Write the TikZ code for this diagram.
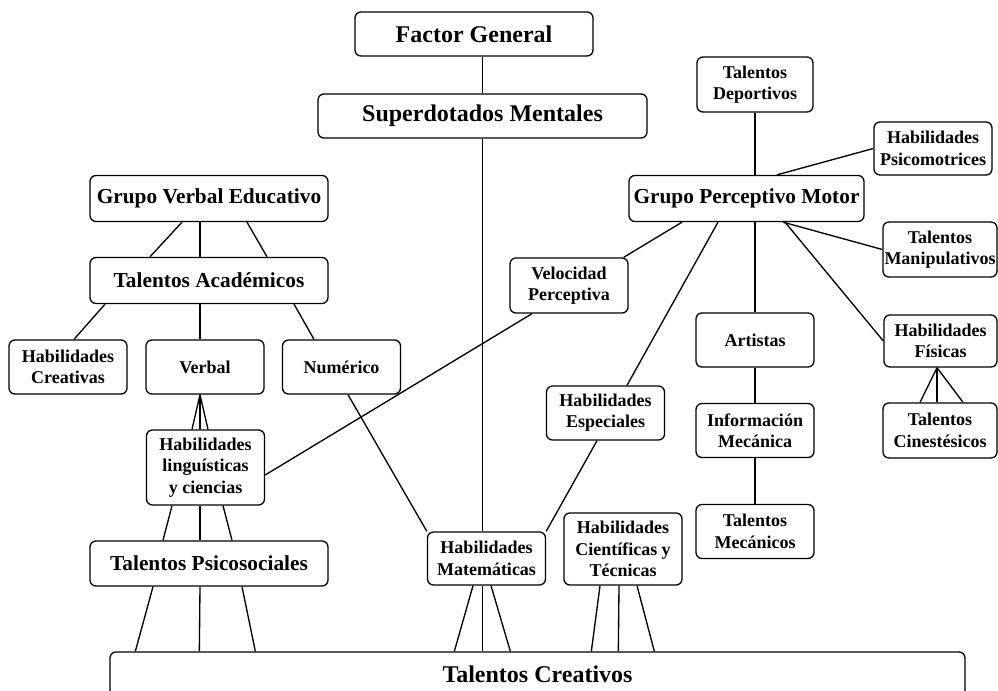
\documentclass[tikz,border=0pt]{standalone}
\usepackage{fontspec}
\setmainfont{Liberation Serif}
\usepackage{tikz}
\usetikzlibrary{calc}

\begin{document}
\begin{tikzpicture}[x=0.75pt, y=-0.75pt,
    box/.style={draw, line width=1pt, rounded corners=4.5pt, fill=white, align=center,
        inner sep=1pt, font=\bfseries\fontsize{13.5}{16}\selectfont,
        minimum width=88.5pt, minimum height=40.5pt},
    wide/.style={box, font=\bfseries\fontsize{16}{19}\selectfont,
        minimum width=178.5pt, minimum height=34.5pt},
    head/.style={wide, font=\bfseries\fontsize{18}{21}\selectfont, minimum height=33pt},
    link/.style={line width=1pt}]
    \useasboundingbox (0,0) rectangle (998,691);

    % big boxes
    \node[head] (fg) at (474,34) {Factor General};
    \node[head, minimum width=246.75pt] (sm) at (482.5,116) {Superdotados Mentales};
    \node[wide] (gve) at (209,198.5) {Grupo Verbal Educativo};
    \node[wide] (ta) at (209,280.5) {Talentos Académicos};
    \node[wide, minimum width=176.25pt] (gpm) at (746.5,198.5) {Grupo Perceptivo Motor};
    \node[wide, minimum height=33.75pt] (ts) at (209,563.5) {Talentos Psicosociales};
    \node[head, minimum width=641.25pt] (tc) at (537.5,674) {Talentos Creativos};

    % small boxes
    \node[box, minimum width=87pt, minimum height=41.25pt] (td) at (755,84.5) {Talentos\\Deportivos};
    \node[box, minimum height=39.75pt] (hp) at (933,148.5) {Habilidades\\Psicomotrices};
    \node[box, minimum width=85.5pt, minimum height=41.25pt] (tmp) at (940,249.5) {Talentos\\Manipulativos};
    \node[box, minimum height=41.25pt] (vp) at (569,285.5) {Velocidad\\Perceptiva};
    \node[box] (hcr) at (68,367) {Habilidades\\Creativas};
    \node[box] (vb) at (205,367) {Verbal};
    \node[box] (nu) at (341.5,367) {Numérico};
    \node[box] (art) at (755,340) {Artistas};
    \node[box, minimum width=84.75pt, minimum height=39pt] (hf) at (940.5,341) {Habilidades\\Físicas};
    \node[box] (es) at (605.5,413) {Habilidades\\Especiales};
    \node[box] (im) at (755,430.5) {Información\\Mecánica};
    \node[box, minimum width=85.5pt, minimum height=41.25pt] (tcin) at (940,430.5) {Talentos\\Cinestésicos};
    \node[box, minimum height=56.25pt] (hl) at (205.5,467.5) {Habilidades\\linguísticas\\y ciencias};
    \node[box] (tme) at (755,531.5) {Talentos\\Mecánicos};
    \node[box, minimum height=54pt] (hct) at (623,549) {Habilidades\\Científicas y\\Técnicas};
    \node[box, minimum height=39.75pt] (hm) at (486.5,558.5) {Habilidades\\Matemáticas};

    % centre column
    \draw[link] (fg.south -| sm.north) -- (sm.north);
    \draw[link] (sm.south) -- (sm.south |- hm.north);
    \draw[link] (sm.south |- hm.south) -- (sm.south |- tc.north);
    \draw[link] ($(hm.south)+(-13.5,0)$) -- ($(tc.north west)+(345,0)$);
    \draw[link] ($(hm.south)+(4.5,0)$) -- ($(tc.north west)+(401,0)$);
    \draw[link] ($(nu.south)+(6.5,0)$) -- (hm.north west);
    \draw[link] ($(es.south)+(-8.5,0)$) -- (hm.north east);
    \draw[link] ($(hct.south)+(-23,0)$) -- ($(tc.north west)+(482,0)$);
    \draw[link] ($(hct.south)+(-4,0)$) -- ($(tc.north west)+(509,0)$);
    \draw[link] ($(hct.south)+(14,0)$) -- ($(tc.north west)+(545,0)$);

    % left branch
    \draw[link] ($(gve.south)+(-27,0)$) -- ($(ta.north)+(-59,0)$);
    \draw[link] ($(gve.south)+(-9,0)$) -- ($(ta.north)+(-9,0)$);
    \draw[link] ($(gve.south)+(38,0)$) -- ($(ta.north)+(58,0)$);
    \draw[link] ($(ta.south)+(-104,0)$) -- ($(hcr.north)+(6,0)$);
    \draw[link] ($(ta.south)+(-9,0)$) -- ($(vb.north)+(-5,0)$);
    \draw[link] ($(ta.south)+(85,0)$) -- ($(nu.north)+(-27.5,0)$);
    \draw[link] ($(vb.south)+(-5,0)$) -- ($(hl.north)+(-13.5,0)$);
    \draw[link] ($(vb.south)+(-5,0)$) -- ($(hl.north)+(-5.5,0)$);
    \draw[link] ($(vb.south)+(-5,0)$) -- ($(hl.north)+(2.5,0)$);
    \draw[link] ($(hl.south)+(-33.5,0)$) -- ($(ts.north)+(-46,0)$);
    \draw[link] ($(hl.south)+(-5.5,0)$) -- ($(ts.north)+(-9,0)$);
    \draw[link] ($(hl.south)+(17.5,0)$) -- ($(ts.north)+(23,0)$);
    \draw[link] ($(ts.south)+(-56,0)$) -- ($(tc.north west)+(26,0)$);
    \draw[link] ($(ts.south)+(-9,0)$) -- ($(tc.north west)+(90,0)$);
    \draw[link] ($(ts.south)+(33,0)$) -- ($(tc.north west)+(146,0)$);

    % right branch
    \draw[link] (td.south) -- (td.south |- gpm.north);
    \draw[link] ($(gpm.north)+(30.5,0)$) -- (hp.west);
    \draw[link] ($(gpm.south)+(-64.5,0)$) -- ($(vp.north east)+(-5,0)$);
    \draw[link] ($(vp.south)+(-37,0)$) -- ($(hl.east)+(0,7.5)$);
    \draw[link] ($(gpm.south)+(-28.5,0)$) -- ($(es.north)+(21.5,0)$);
    \draw[link] (gpm.south -| art.north) -- (art.north);
    \draw[link] (art.south) -- (im.north);
    \draw[link] (im.south) -- (tme.north);
    \draw[link] ($(gpm.south)+(36.5,0)$) -- (tmp.west);
    \draw[link] ($(gpm.south)+(38.5,0)$) -- (hf.west);
    \draw[link] ($(hf.south)+(-3.5,0)$) -- ($(tcin.north)+(-20,0)$);
    \draw[link] ($(hf.south)+(-3.5,0)$) -- ($(tcin.north)+(-3,0)$);
    \draw[link] ($(hf.south)+(-3.5,0)$) -- ($(tcin.north)+(23,0)$);
\end{tikzpicture}
\end{document}
